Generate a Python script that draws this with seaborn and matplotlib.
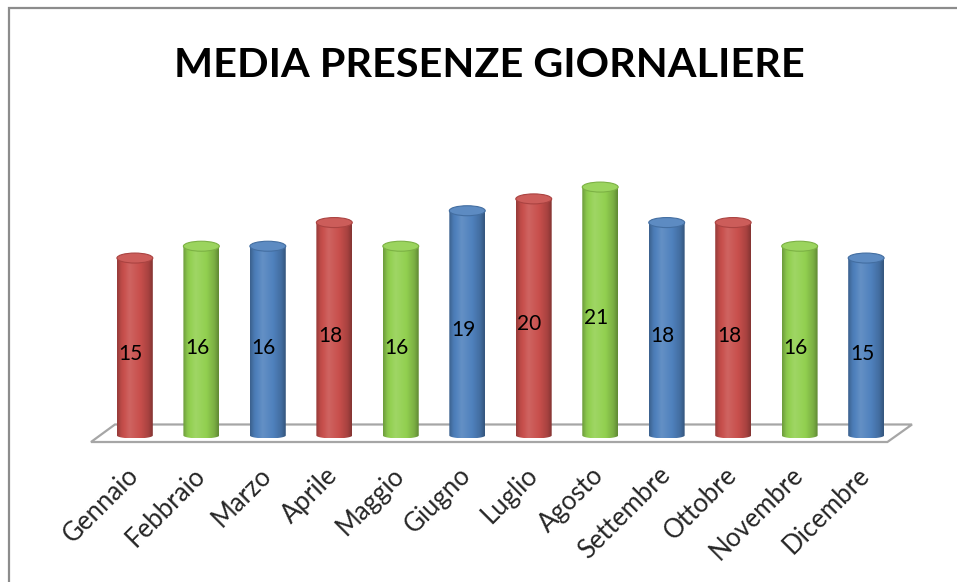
import numpy as np
import pandas as pd
import matplotlib
matplotlib.use("Agg")
import matplotlib.pyplot as plt
import matplotlib.transforms as mtrans
import seaborn as sns
from matplotlib.patches import Ellipse, Polygon, Rectangle, PathPatch
from matplotlib.path import Path
from matplotlib.colors import to_rgb

# dati
mesi = ["Gennaio", "Febbraio", "Marzo", "Aprile", "Maggio", "Giugno",
        "Luglio", "Agosto", "Settembre", "Ottobre", "Novembre", "Dicembre"]
presenze = [15, 16, 16, 18, 16, 19, 20, 21, 18, 18, 16, 15]
colori = ["#C84F4C", "#92D050", "#4F81BD", "#C84F4C", "#92D050", "#4F81BD",
          "#C84F4C", "#92D050", "#4F81BD", "#C84F4C", "#92D050", "#4F81BD"]
titolo = "MEDIA PRESENZE GIORNALIERE"

sns.set_theme(style="white")
plt.rcParams["font.family"] = ["Lato", "DejaVu Sans"]

W, H = 957, 582
fig = plt.figure(figsize=(W / 100, H / 100), dpi=100)
ax = fig.add_axes([87 / W, (H - 450) / H, (916 - 87) / W, 330 / H])

df = pd.DataFrame({"mese": mesi, "presenze": presenze})
sns.barplot(data=df, x="mese", y="presenze", hue="mese", palette=colori,
            saturation=1, legend=False, width=0.54, ax=ax)

xlim = (-0.72, 11.75)
ylim = (-1.226, 26.67)
ax.set_xlim(*xlim)
ax.set_ylim(*ylim)
px_y = ax.bbox.height / (ylim[1] - ylim[0])
ry_top = 5.0 / px_y
ry_bot = 3.0 / px_y


def shade(base, f):
    base = np.array(base)
    if f <= 1:
        return base * f
    return base + (1 - base) * (f - 1)


prof_u = [0.0, 0.12, 0.35, 0.65, 0.88, 1.0]
prof_f = [0.75, 0.95, 1.12, 1.0, 0.84, 0.66]
uu = np.linspace(0, 1, 64)

n = len(mesi)
for p in list(ax.patches):
    x0, w, h = p.get_x(), p.get_width(), p.get_height()
    base = to_rgb(p.get_facecolor())
    p.set_visible(False)
    cx = x0 + w / 2
    t = np.linspace(np.pi, 2 * np.pi, 40)
    verts = [(x0, h), (x0, 0)] + list(zip(cx + w / 2 * np.cos(t), ry_bot * np.sin(t))) + [(x0 + w, h), (x0, h)]
    codes = [Path.MOVETO] + [Path.LINETO] * (len(verts) - 2) + [Path.CLOSEPOLY]
    body = PathPatch(Path(verts, codes), facecolor="none", edgecolor="none", zorder=3)
    ax.add_patch(body)
    ff = np.interp(uu, prof_u, prof_f)
    grad = np.array([shade(base, f) for f in ff])[np.newaxis, :, :]
    im = ax.imshow(grad, extent=(x0, x0 + w, -ry_bot, h), aspect="auto",
                   interpolation="bicubic", zorder=3)
    im.set_clip_path(body)
    ax.add_patch(Ellipse((cx, h), w, 2 * ry_top, facecolor=shade(base, 1.08),
                         edgecolor=shade(base, 0.85), lw=0.8, zorder=4))
    ax.annotate(f"{h:.0f}", (cx, h / 2), xytext=(-3, -5), textcoords="offset points",
                ha="center", va="center", fontsize=15, color="black", zorder=5)

# pavimento
floor = Polygon([(-0.66, -0.55), (-0.30, 0.93), (n - 0.5 + 0.19, 0.93), (n - 0.5 - 0.18, -0.55)],
                closed=True, facecolor="white", edgecolor="#A6A6A6", lw=1.6, zorder=1)
ax.add_patch(floor)

ax.set_xlim(*xlim)
ax.set_ylim(*ylim)
ax.set_xticks(range(n))
ax.set_xticklabels(mesi, rotation=45, ha="right", rotation_mode="anchor", fontsize=18.5)
ax.tick_params(axis="x", length=0, pad=9)
sposta = mtrans.ScaledTranslation(-9 / 100, 0, fig.dpi_scale_trans)
for lab in ax.get_xticklabels():
    lab.set_transform(lab.get_transform() + sposta)
ax.set_yticks([])
ax.set_xlabel("")
ax.set_ylabel("")
for s in ax.spines.values():
    s.set_visible(False)

fig.text(489 / W, 1 - 77 / H, titolo, ha="center", va="baseline",
         fontsize=29.8, fontweight="bold", color="black")

fig.add_artist(Rectangle((9 / W, -0.1), 1.2, 1.1 - 8 / H, transform=fig.transFigure,
                         fill=False, edgecolor="#8C8C8C", lw=1.6))

fig.savefig("out.png", dpi=100)
